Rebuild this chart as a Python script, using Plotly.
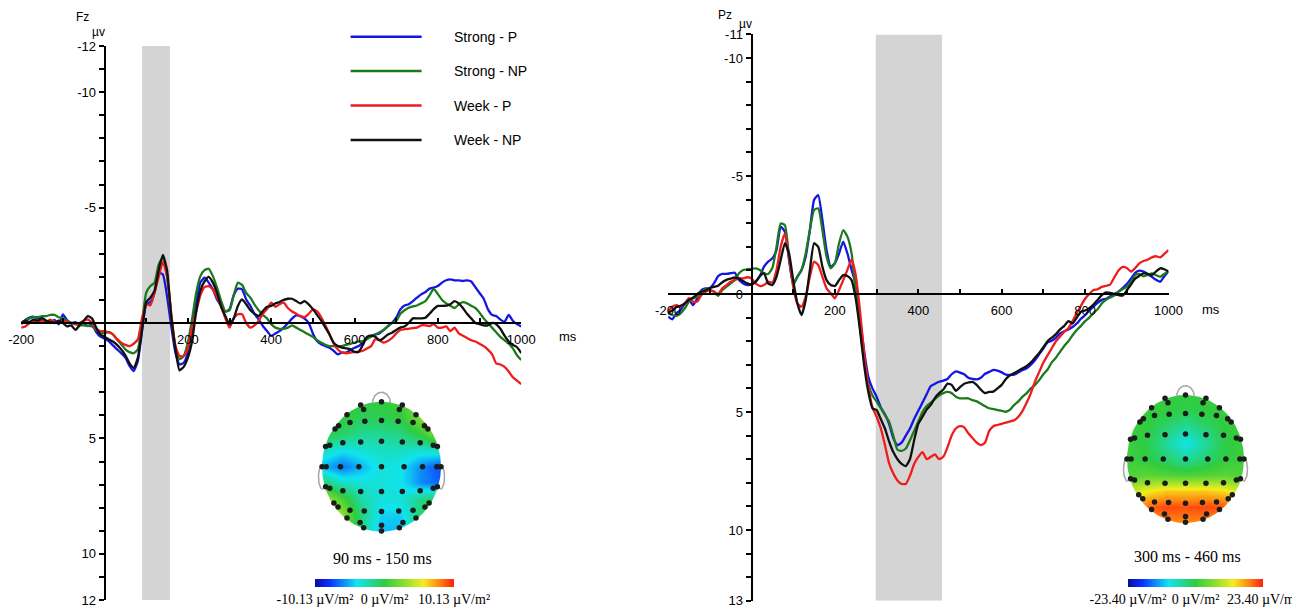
import numpy as np
import plotly.graph_objects as go

# reference canvas, and the page offset of the plot div (default body margin)
REF_W, REF_H = 1300, 613
OFFSET = 8
W, H = REF_W - OFFSET, REF_H - OFFSET

# sample times of the averaged waveforms (ms)
times = list(range(-200, 1001, 10))

conditions = ["Strong - P", "Strong - NP", "Week - P", "Week - NP"]
colors = ["#1414e6", "#1c7a1c", "#ee1c1c", "#111111"]

# Fz waveforms (uV), 10 ms steps from -200 to 1000
fz_strong_p = [0.0, -0.13, -0.23, -0.27, -0.19, -0.23, -0.09, 0.0, -0.13, 0.06,
               -0.37, -0.13, 0.0, -0.04, 0.1, 0.0, 0.13, 0.06, 0.39, 0.59,
               0.68, 0.78, 0.97, 1.14, 1.31, 1.5, 1.86, 2.08, 1.64, 0.35,
               -0.81, -0.91, -1.31, -2.18, -2.1, -1.17, 0.13, 1.28, 1.79, 1.72,
               1.28, 0.27, -0.88, -1.75, -1.96, -1.75, -1.46, -1.02, -0.74, -0.5,
               -0.6, -1.2, -1.49, -1.46, -1.02, -0.74, -0.38, -0.16, 0.13, 0.35,
               0.56, 0.45, 0.35, 0.2, 0.01, -0.19, -0.33, -0.3, -0.19, -0.01,
               0.45, 0.78, 0.92, 1.0, 1.07, 1.21, 1.36, 1.28, 1.28, 1.17,
               1.07, 1.0, 0.85, 0.63, 0.56, 0.49, 0.45, 0.3, 0.13, -0.01,
               -0.23, -0.59, -0.76, -0.81, -0.95, -1.1, -1.24, -1.34, -1.49, -1.53,
               -1.6, -1.75, -1.85, -1.89, -1.85, -1.85, -1.82, -1.85, -1.8, -1.55,
               -1.3, -1.05, -0.6, -0.35, -0.3, -0.15, -0.05, -0.35, -0.1, 0.05,
               0.15]
fz_strong_np = [0.05, -0.1, -0.2, -0.25, -0.25, -0.3, -0.3, -0.35, -0.35, -0.25,
                -0.2, -0.1, 0.0, 0.05, 0.1, 0.1, 0.12, 0.15, 0.3, 0.4,
                0.45, 0.39, 0.49, 0.71, 0.92, 1.14, 1.26, 1.31, 1.14, 0.0,
                -1.31, -1.6, -1.75, -2.54, -2.83, -2.03, -0.3, 1.0, 1.57, 1.43,
                0.85, -0.16, -1.31, -2.03, -2.29, -2.35, -2.03, -1.53, -0.95, -0.5,
                -0.55, -1.2, -1.75, -1.65, -1.3, -1.1, -0.8, -0.55, -0.35, -0.2,
                0.05, 0.2, 0.25, 0.25, 0.2, 0.1, 0.2, 0.3, 0.4, 0.5,
                0.6, 0.75, 0.85, 0.95, 1.0, 1.0, 1.0, 1.0, 0.95, 0.9,
                0.85, 0.8, 0.78, 0.7, 0.6, 0.5, 0.4, 0.3, 0.15, 0.0,
                -0.09, -0.4, -0.55, -0.66, -0.72, -0.76, -0.85, -0.95, -1.2, -1.48,
                -1.25, -1.0, -0.85, -0.75, -0.65, -0.8, -0.9, -0.85, -0.75, -0.65,
                -0.45, -0.2, 0.0, 0.2, 0.4, 0.6, 0.75, 0.9, 1.1, 1.4,
                1.6]
fz_week_p = [0.2, 0.15, 0.0, -0.1, -0.05, -0.1, -0.05, -0.15, -0.05, 0.0,
             -0.1, -0.05, 0.0, 0.05, 0.0, -0.1, -0.15, 0.0, 0.25, 0.35,
             0.35, 0.4, 0.49, 0.7, 0.85, 0.95, 1.0, 0.9, 0.71, -0.2,
             -0.81, -0.77, -1.31, -2.0, -2.65, -2.03, -0.45, 1.0, 1.43, 1.43,
             1.1, 0.2, -0.5, -1.2, -1.55, -1.6, -1.45, -1.1, -0.7, -0.2,
             0.2, -0.2, -0.38, -0.38, 0.0, 0.2, 0.1, -0.1, -0.4, -0.6,
             -0.88, -0.7, -0.81, -0.88, -0.65, -0.5, -0.4, -0.3, -0.25, -0.4,
             -0.59, -0.5, -0.25, 0.1, 0.5, 0.9, 1.15, 1.28, 1.31, 1.28,
             1.26, 1.24, 1.2, 1.1, 1.0, 0.7, 0.75, 0.85, 0.78, 0.65,
             0.45, 0.3, 0.27, 0.25, 0.22, 0.2, 0.1, 0.1, 0.13, 0.05,
             0.2, 0.2, 0.15, 0.35, 0.2, 0.45, 0.55, 0.65, 0.75, 0.8,
             0.9, 1.0, 1.15, 1.35, 1.75, 1.8, 1.9, 2.1, 2.35, 2.5,
             2.65]
fz_week_np = [0.0, -0.1, -0.05, -0.15, -0.1, -0.2, -0.1, -0.05, 0.0, -0.1,
              0.0, 0.15, 0.1, 0.3, 0.1, -0.1, -0.3, -0.2, 0.2, 0.5,
              0.6, 0.7, 0.8, 0.95, 1.15, 1.4, 1.75, 1.95, 1.5, 0.3,
              -0.9, -1.1, -1.4, -2.3, -2.95, -2.3, -0.3, 1.1, 2.05, 1.9,
              1.5, 0.8, -0.5, -1.4, -1.8, -2.0, -1.75, -1.3, -0.7, -0.3,
              0.05, -0.2, -0.74, -1.02, -0.81, -0.55, -0.4, -0.3, -0.52, -0.7,
              -0.74, -0.85, -0.91, -1.0, -1.05, -1.05, -0.95, -0.85, -0.95, -0.81,
              -0.6, -0.35, -0.1, 0.2, 0.5, 0.85, 1.0, 1.07, 1.1, 1.14,
              1.25, 1.25, 0.95, 0.6, 0.55, 0.6, 0.75, 0.65, 0.5, 0.42,
              0.3, 0.2, 0.15, 0.0, -0.2, -0.2, -0.2, -0.23, -0.4, -0.6,
              -0.74, -0.74, -0.75, -0.81, -0.95, -0.85, -0.65, -0.4, -0.2, 0.0,
              0.05, 0.1, 0.1, 0.0, 0.05, 0.25, 0.55, 0.8, 0.95, 1.05,
              1.3]

# Pz waveforms (uV)
pz_strong_p = [0.96, 1.07, 0.82, 0.68, 0.4, 0.25, 0.47, 0.18, -0.17, -0.24,
               -0.24, -0.45, -0.76, -0.85, -0.85, -0.88, -0.9, -0.59, -0.45, -0.38,
               -0.41, -0.52, -0.76, -1.16, -1.37, -1.51, -1.86, -2.85, -2.64, -1.44,
               -0.45, -0.73, -1.02, -1.58, -2.71, -3.98, -4.19, -3.14, -1.86, -1.16,
               -1.3, -1.72, -2.22, -1.72, -1.02, -0.4, 1.0, 2.4, 3.5, 4.0,
               4.35, 4.8, 5.1, 5.5, 6.1, 6.4, 6.3, 6.0, 5.7, 5.3,
               4.95, 4.6, 4.25, 3.9, 3.8, 3.72, 3.67, 3.6, 3.4, 3.28,
               3.33, 3.4, 3.55, 3.6, 3.62, 3.55, 3.38, 3.3, 3.22, 3.25,
               3.32, 3.42, 3.43, 3.42, 3.32, 3.22, 3.15, 3.0, 2.8, 2.55,
               2.3, 2.05, 1.98, 1.85, 1.67, 1.58, 1.5, 1.4, 1.25, 1.05,
               0.9, 0.7, 0.54, 0.38, 0.25, 0.2, 0.1, 0.0, -0.1, -0.25,
               -0.42, -0.65, -0.9, -0.99, -0.95, -0.85, -0.73, -0.6, -0.52, -0.75,
               -0.95]
pz_strong_np = [0.82, 0.89, 0.93, 0.82, 0.61, 0.32, 0.18, 0.11, -0.1, -0.2,
                -0.17, -0.1, 0.08, -0.17, -0.31, -0.45, -0.59, -0.88, -1.02, -1.05,
                -1.07, -1.09, -1.02, -0.88, -0.85, -1.1, -2.0, -2.99, -2.92, -1.58,
                -0.38, -0.73, -1.02, -1.72, -2.71, -3.56, -3.63, -2.71, -1.58, -1.09,
                -1.3, -2.15, -2.71, -2.43, -1.72, -0.1, 1.4, 2.8, 3.8, 4.3,
                4.56, 4.84, 5.13, 5.41, 6.0, 6.6, 6.65, 6.55, 6.2, 5.8,
                5.4, 5.0, 4.75, 4.6, 4.45, 4.3, 4.2, 4.15, 4.2, 4.35,
                4.42, 4.42, 4.42, 4.5, 4.55, 4.65, 4.75, 4.84, 4.88, 4.92,
                4.95, 4.99, 4.9, 4.7, 4.55, 4.35, 4.2, 4.0, 3.85, 3.65,
                3.4, 3.2, 2.9, 2.7, 2.45, 2.2, 2.0, 1.75, 1.53, 1.35,
                1.15, 1.0, 0.8, 0.65, 0.4, 0.25, 0.15, 0.07, -0.1, -0.2,
                -0.3, -0.5, -0.8, -0.85, -0.75, -0.8, -0.87, -0.8, -0.73, -0.85,
                -0.95]
pz_week_p = [0.75, 0.54, 0.47, 0.54, 0.4, 0.18, 0.32, 0.32, 0.04, -0.1,
             -0.17, -0.1, 0.0, -0.24, -0.38, -0.52, -0.59, -0.66, -0.66, -0.71,
             -0.66, -0.45, -0.34, -0.38, -0.52, -0.48, -1.02, -2.0, -2.57, -1.58,
             -0.31, 0.4, 0.54, 0.11, -0.73, -1.37, -1.23, -0.73, -0.24, -0.03,
             0.18, -0.17, -0.59, -1.02, -1.47, -0.8, 0.68, 2.5, 3.9, 4.8,
             5.2, 5.69, 6.4, 7.18, 7.6, 7.9, 8.05, 8.05, 7.7, 7.2,
             6.9, 6.7, 7.0, 6.9, 6.8, 7.0, 6.9, 6.5, 6.0, 5.7,
             5.6, 5.65, 5.9, 6.1, 6.3, 6.4, 6.3, 5.8, 5.6, 5.55,
             5.5, 5.45, 5.4, 5.35, 5.2, 4.95, 4.6, 4.2, 3.7, 3.3,
             2.9, 2.6, 2.3, 2.0, 1.8, 1.6, 1.45, 1.15, 0.8, 0.5,
             0.2, 0.0, -0.17, -0.2, -0.3, -0.35, -0.4, -0.7, -1.0, -1.15,
             -1.1, -0.95, -1.1, -1.3, -1.4, -1.45, -1.55, -1.6, -1.55, -1.7,
             -1.86]
pz_week_np = [0.8, 0.7, 0.55, 0.5, 0.4, 0.25, 0.15, 0.0, -0.1, -0.15,
              -0.25, -0.3, -0.35, -0.5, -0.6, -0.65, -0.7, -0.65, -0.55, -0.45,
              -0.4, -0.52, -0.76, -0.88, -0.45, -0.38, -0.73, -1.44, -2.15, -1.72,
              -0.59, 0.4, 0.89, 0.25, -1.02, -2.15, -2.0, -1.16, -0.59, -0.38,
              -0.34, -0.59, -0.8, -0.76, -0.59, 0.2, 1.5, 3.0, 4.14, 4.84,
              4.92, 5.3, 5.7, 6.25, 6.7, 7.0, 7.2, 7.29, 7.0, 6.2,
              5.5, 5.2, 4.9, 4.7, 4.4, 4.2, 4.05, 3.8, 3.85, 4.1,
              3.95, 3.8, 3.75, 3.72, 3.85, 4.05, 4.2, 4.15, 4.14, 4.0,
              3.85, 3.6, 3.45, 3.35, 3.25, 3.15, 3.05, 2.9, 2.7, 2.5,
              2.25, 2.0, 1.85, 1.7, 1.5, 1.35, 1.15, 1.25, 1.0, 0.75,
              0.7, 0.6, 0.45, 0.25, 0.05, -0.07, -0.05, 0.0, 0.05, 0.07,
              -0.15, -0.4, -0.65, -0.77, -0.87, -0.85, -0.8, -0.95, -1.09, -1.05,
              -0.95]

# analysis windows (ms)
fz_window = [90, 157]
pz_window = [298, 457]

fz_ticks = [-12, -10, -5, 5, 10, 12]
pz_ticks = [-11, -10, -5, 0, 5, 10, 13]
time_ticks = [-200, 200, 400, 600, 800, 1000]

# scalp maps: coarse grid in head units, rows bottom -> top
grid_x = [-1.0, -0.667, -0.333, 0.0, 0.333, 0.667, 1.0]
grid_y = [-1.0, -0.75, -0.5, -0.25, 0.0, 0.25, 0.5, 0.75, 1.0]
map_early = [[5, 2, -2, -5, -5, -1, 1],
             [6, 3, -1.5, -4.5, -4.5, -1, 1.5],
             [4, 1, -2.5, -3.5, -3.5, -1.5, 0],
             [-1, -3, -3.5, -3.5, -4, -6, -7],
             [-5, -6.5, -5, -3.5, -4, -6, -7.5],
             [-3, -4, -3.5, -3, -3, -3.5, -3],
             [0, -1, -2, -2, -1.5, 0, 3],
             [0.5, 0, -0.5, -0.5, 0, 2.5, 5],
             [0.5, 0.5, 0, 0, 0.5, 3, 5]]
map_late = [[11, 16, 18, 18, 18, 16, 11],
            [14, 20, 21.5, 21, 21.5, 21, 15],
            [9, 13, 15, 15, 15, 14, 10],
            [2, 3, 2.5, 2, 2.5, 3, 2],
            [1, 0, -2.5, -5, -2.5, 0, 1],
            [1, -0.5, -5, -9, -5, -0.5, 1],
            [1, 0, -2.5, -5, -2.5, 0, 1],
            [1, 0.5, 0, -1, 0, 0.5, 1],
            [1, 1, 0.5, 0, 0.5, 1, 1]]
early_limit = 10.13
late_limit = 23.40

# electrode positions in head units
elec_x = [0, -0.35, 0.35, -0.3, 0.3,
          -0.58, 0.58, -0.78, -0.72, 0.72, 0.78, -0.53, -0.28, 0, 0.28, 0.53,
          -0.94, -0.87, -0.65, -0.35, 0, 0.35, 0.65, 0.87, 0.94,
          -1.0, -0.93, -0.69, -0.38, 0, 0.38, 0.69, 0.93, 1.0,
          -0.94, -0.87, -0.65, -0.35, 0, 0.35, 0.65, 0.87, 0.94,
          -0.8, -0.73, -0.53, -0.29, 0, 0.29, 0.53, 0.73, 0.8,
          -0.58, -0.36, -0.3, 0, 0, 0.3, 0.36, 0.58]
elec_y = [1.0, 0.95, 0.95, 0.88, 0.88,
          0.8, 0.8, 0.58, 0.63, 0.63, 0.58, 0.68, 0.7, 0.71, 0.7, 0.68,
          0.31, 0.33, 0.37, 0.38, 0.39, 0.38, 0.37, 0.33, 0.31,
          0, 0, 0, 0, 0, 0, 0, 0, 0,
          -0.31, -0.33, -0.37, -0.38, -0.38, -0.38, -0.37, -0.33, -0.31,
          -0.56, -0.62, -0.67, -0.68, -0.69, -0.68, -0.67, -0.62, -0.56,
          -0.79, -0.86, -0.94, -0.9, -0.99, -0.94, -0.86, -0.79]

topo_scale = [[0.0, "#0c0c9a"], [0.1, "#0a2cff"], [0.3, "#10e4f0"], [0.5, "#30cc40"],
              [0.65, "#90e02c"], [0.78, "#f2ee1e"], [0.89, "#ff8a12"], [1.0, "#ff200c"]]


def px(x):
    # reference pixel column -> paper fraction
    return (x - OFFSET) / W


def py(y):
    return 1 - (y - OFFSET) / H


AXIS_FONT = dict(family="Liberation Sans, Arial", size=13, color="black")
SERIF = dict(family="Liberation Serif, Times New Roman", size=16, color="black")


def erp_axes(left, right, top, bottom, yrange, labels):
    # pixel box of the data area, zero lines cross inside it
    zero_x = left + 200 / 1200 * (right - left)
    zero_y = top + (0 - yrange[1]) / (yrange[0] - yrange[1]) * (bottom - top)
    xa = dict(domain=[px(left), px(right)], range=[-200, 1000], anchor="free",
              position=py(zero_y), showline=True, linecolor="black", linewidth=2,
              ticks="inside", ticklen=4, tickwidth=1.5, tickcolor="black",
              tickvals=list(range(-200, 1001, 100)),
              ticktext=[str(v) if v in time_ticks else "" for v in range(-200, 1001, 100)],
              ticklabelstandoff=4, tickfont=AXIS_FONT, showgrid=False, zeroline=False,
              fixedrange=True, automargin=False)
    yvals = list(range(int(yrange[1]), int(yrange[0]) + 1))
    ya = dict(domain=[py(bottom), py(top)], range=yrange, anchor="free",
              position=px(zero_x), showline=True, linecolor="black", linewidth=2,
              ticks="outside", ticklen=5, tickwidth=1.5, tickcolor="black",
              tickvals=yvals, ticktext=[str(v) if v in labels else "" for v in yvals],
              tickfont=AXIS_FONT, showgrid=False, zeroline=False, fixedrange=True,
              automargin=False)
    return xa, ya


def topo_axes(cx, cy, rx, ry, span=1.25):
    xa = dict(domain=[px(cx - span * rx), px(cx + span * rx)], range=[-span, span],
              visible=False, fixedrange=True)
    ya = dict(domain=[py(cy + span * ry), py(cy - span * ry)], range=[-span, span],
              visible=False, fixedrange=True)
    return xa, ya


fig = go.Figure()

panels = [
    ("x", "y", [fz_strong_p, fz_strong_np, fz_week_p, fz_week_np]),
    ("x2", "y2", [pz_strong_p, pz_strong_np, pz_week_p, pz_week_np]),
]
for xa, ya, series in panels:
    for name, color, values in zip(conditions, colors, series):
        fig.add_trace(go.Scatter(x=times, y=values, name=name, mode="lines",
                                 line=dict(color=color, width=2.3, shape="spline", smoothing=0.5),
                                 xaxis=xa, yaxis=ya, showlegend=False, hoverinfo="skip"))

# scalp maps
theta = np.linspace(0, 2 * np.pi, 181)
span = 1.25
mask_x = [span, span, -span, -span, span, span] + list(np.cos(-theta)) + [span]
mask_y = [0, span, span, -span, -span, 0] + list(np.sin(-theta)) + [0]
th = np.linspace(0, np.pi, 40)
nose_x, nose_y = 0.15 * np.cos(th), 0.975 + 0.17 * np.sin(th)
s = np.linspace(0, np.pi, 40)

maps = [
    ("x3", "y3", map_early, early_limit, 384.5, 139),
    ("x4", "y4", map_late, late_limit, 1195.5, 135),
]
for xa, ya, z, lim, bar_cx, bar_len in maps:
    fig.add_trace(go.Heatmap(
        x=grid_x, y=grid_y, z=z, zsmooth="best", colorscale=topo_scale,
        zmin=-lim, zmax=lim, xaxis=xa, yaxis=ya, hoverinfo="skip",
        colorbar=dict(orientation="h", x=px(bar_cx), xanchor="center",
                      y=py(579), yanchor="top", len=bar_len, lenmode="pixels",
                      thickness=7.5, thicknessmode="pixels", xpad=0, ypad=0,
                      outlinewidth=0, ticks="",
                      tickvals=[-lim, 0, lim],
                      ticktext=["-%.2f µV/m²" % lim, "0 µV/m²", "%.2f µV/m²" % lim],
                      tickfont=dict(family="Liberation Serif, Times New Roman", size=14,
                                    color="black"))))
    fig.add_trace(go.Scatter(x=mask_x, y=mask_y, mode="lines", fill="toself",
                             fillcolor="white", line=dict(width=0),
                             xaxis=xa, yaxis=ya, hoverinfo="skip", showlegend=False))
    fig.add_trace(go.Scatter(x=nose_x, y=nose_y, mode="lines",
                             line=dict(color="#a6a6a6", width=1.5),
                             xaxis=xa, yaxis=ya, hoverinfo="skip", showlegend=False))
    for side in (-1, 1):
        fig.add_trace(go.Scatter(x=side * (0.985 + 0.075 * np.sin(s)),
                                 y=-0.16 + 0.19 * np.cos(s), mode="lines",
                                 line=dict(color="#a6a6a6", width=1.5),
                                 xaxis=xa, yaxis=ya, hoverinfo="skip", showlegend=False))
    fig.add_trace(go.Scatter(x=elec_x, y=elec_y, mode="markers",
                             marker=dict(color="#1c1c1c", size=5.5),
                             xaxis=xa, yaxis=ya, hoverinfo="skip", showlegend=False))

xa1, ya1 = erp_axes(21.2, 521.2, 46, 600, [12, -12], fz_ticks)
xa2, ya2 = erp_axes(668.1, 1168.5, 34.4, 600.8, [13, -11], pz_ticks)
xa3, ya3 = topo_axes(381.5, 466.7, 59.5, 65)
xa4, ya4 = topo_axes(1185.5, 459, 58.5, 64)

shapes = [
    dict(type="rect", xref="x", yref="y", x0=fz_window[0], x1=fz_window[1], y0=-12, y1=12,
         fillcolor="#d4d4d4", line=dict(width=0), layer="below"),
    dict(type="rect", xref="x2", yref="y2", x0=pz_window[0], x1=pz_window[1], y0=-11, y1=13,
         fillcolor="#d4d4d4", line=dict(width=0), layer="below"),
]

annotations = []
# legend drawn by hand to get the long line samples
for i, (name, color) in enumerate(zip(conditions, colors)):
    yy = 36.7 + i * 34.4
    shapes.append(dict(type="line", xref="paper", yref="paper", x0=px(350.6), x1=px(421.6),
                       y0=py(yy), y1=py(yy), line=dict(color=color, width=2.5)))
    annotations.append(dict(text=name, x=px(452), y=py(yy), xref="paper", yref="paper",
                            xanchor="left", yanchor="middle", showarrow=False,
                            font=dict(family="Liberation Sans, Arial", size=14, color="black")))

small = dict(family="Liberation Sans, Arial", size=12, color="black")
for text, x, y, font in [
    ("Fz", 82, 17, small), ("µv", 98.5, 32, small),
    ("Pz", 725, 15, small), ("µv", 745, 24, small),
    ("ms", 567.6, 336.7, AXIS_FONT), ("ms", 1210.7, 309, AXIS_FONT),
    ("90 ms - 150 ms", 382.5, 558, SERIF), ("300 ms - 460 ms", 1187, 556, SERIF),
]:
    annotations.append(dict(text=text, x=px(x), y=py(y), xref="paper", yref="paper",
                            xanchor="center", yanchor="middle", showarrow=False, font=font))

fig.update_layout(
    width=W, height=H, margin=dict(l=0, r=0, t=0, b=0, autoexpand=False),
    paper_bgcolor="white", plot_bgcolor="rgba(0,0,0,0)", showlegend=False,
    xaxis=xa1, yaxis=ya1, xaxis2=xa2, yaxis2=ya2,
    xaxis3=xa3, yaxis3=ya3, xaxis4=xa4, yaxis4=ya4,
    shapes=shapes, annotations=annotations,
)

fig.write_html("out.html")
